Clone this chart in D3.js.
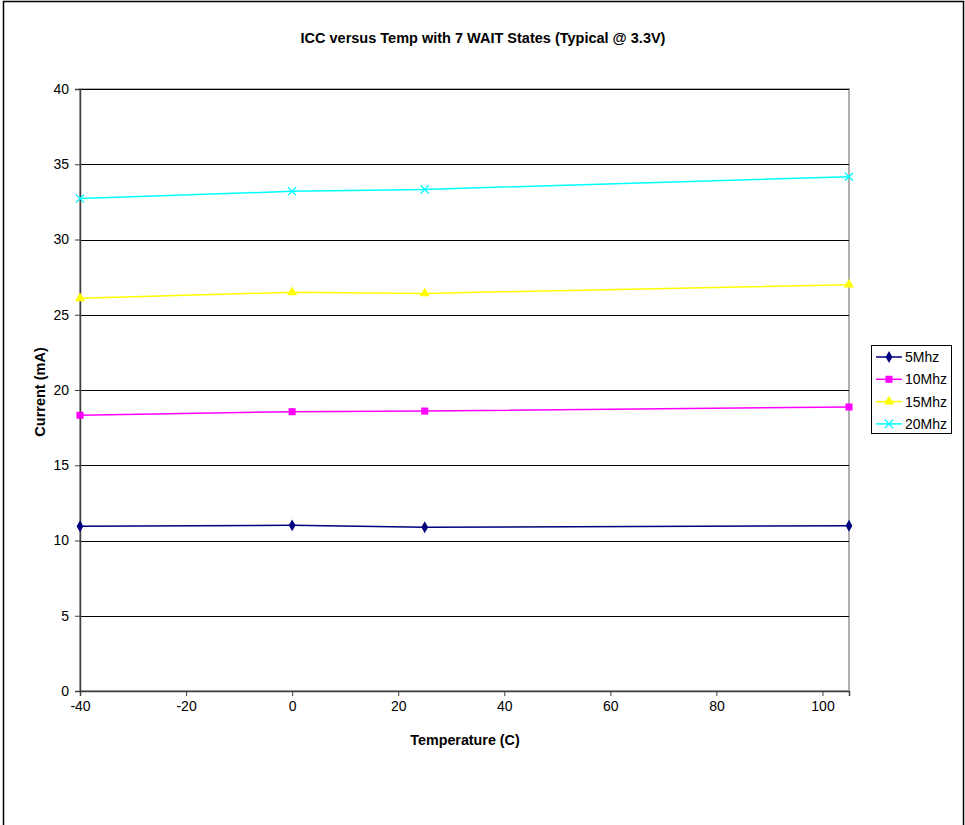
<!DOCTYPE html>
<html>
<head>
<meta charset="utf-8">
<script src="https://cdn.jsdelivr.net/npm/d3@7"></script>
<style>
  body { margin: 0; background: #fff; }
  text { font-family: Arial, 'Liberation Sans', sans-serif; }
</style>
</head>
<body>
<div id="chart"></div>
<script>
const temps = [-40, 0, 25, 105]
const seriesNames = ['5Mhz', '10Mhz', '15Mhz', '20Mhz']
const mhz5 = [10.94, 11.01, 10.88, 10.98]
const mhz10 = [18.32, 18.56, 18.6, 18.87]
const mhz15 = [26.09, 26.49, 26.42, 27.0]
const mhz20 = [32.72, 33.2, 33.33, 34.17]
const yTicks = [0, 5, 10, 15, 20, 25, 30, 35, 40]
const xTicks = [-40, -20, 0, 20, 40, 60, 80, 100]

const colors = ['#000080', '#ff00ff', '#ffff00', '#00ffff']
const symbols = ['diamond', 'square', 'triangle', 'x']
const allSeries = [mhz5, mhz10, mhz15, mhz20].map((vals, i) => ({
  name: seriesNames[i],
  color: colors[i],
  symbol: symbols[i],
  values: vals.map((v, j) => ({ t: temps[j], v: v }))
}))

const W = 965
const H = 825
const margin = { top: 89, right: 116, bottom: 134, left: 80 }
const width = 849 - margin.left
const height = 691 - margin.top

const svg = d3.select('#chart')
  .append('svg')
  .attr('width', W)
  .attr('height', H)

// outer frame
svg.append('rect')
  .attr('x', 3.5).attr('y', 1.5)
  .attr('width', 960).attr('height', 840)
  .attr('fill', 'none').attr('stroke', '#000').attr('stroke-width', 1.5)

const g = svg.append('g')
  .attr('transform', 'translate(' + margin.left + ',' + margin.top + ')')

const x = d3.scaleLinear().domain([-40, 105]).range([0, width])
const y = d3.scaleLinear().domain([0, 40]).range([height, 0])

// plot area border
g.append('rect')
  .attr('x', 0).attr('y', 0)
  .attr('width', width).attr('height', height)
  .attr('fill', 'none').attr('stroke', '#b0b0b0').attr('stroke-width', 2)

// gridlines
g.selectAll('.grid')
  .data(yTicks.filter(d => d > 0))
  .enter()
  .append('line')
  .attr('class', 'grid')
  .attr('x1', 0).attr('x2', width)
  .attr('y1', d => Math.round(y(d)) + 0.5)
  .attr('y2', d => Math.round(y(d)) + 0.5)
  .attr('stroke', '#000')

const yAxis = g.append('g')
  .call(d3.axisLeft(y).tickValues(yTicks).tickFormat(d => String(d)).tickSize(5).tickPadding(6))
const xAxis = g.append('g')
  .attr('transform', 'translate(0,' + height + ')')
  .call(d3.axisBottom(x).tickValues(xTicks).tickFormat(d => String(d)).tickSize(5).tickPadding(5))

;[yAxis, xAxis].forEach(ax => {
  ax.select('.domain').attr('stroke', '#404040').attr('stroke-width', 1.5)
  ax.selectAll('.tick line').attr('stroke', '#404040')
  ax.selectAll('.tick text').attr('font-size', 14).attr('fill', '#000')
    .attr('font-family', 'Arial, Liberation Sans, sans-serif')
})

const line = d3.line()
  .x(d => x(d.t))
  .y(d => y(d.v))

const symbolFor = s => {
  if (s === 'diamond') return d3.symbol().type(d3.symbolDiamond).size(40)()
  if (s === 'square') return d3.symbol().type(d3.symbolSquare).size(50)()
  if (s === 'triangle') return d3.symbol().type(d3.symbolTriangle).size(45)()
  return d3.symbol().type(d3.symbolTimes).size(45)()
}

allSeries.forEach(s => {
  g.append('path')
    .datum(s.values)
    .attr('d', line)
    .attr('fill', 'none')
    .attr('stroke', s.color)
    .attr('stroke-width', 1.5)

  g.selectAll(null)
    .data(s.values)
    .enter()
    .append('path')
    .attr('transform', d => 'translate(' + x(d.t) + ',' + y(d.v) + ')')
    .attr('d', symbolFor(s.symbol))
    .attr('fill', s.symbol === 'x' ? 'none' : s.color)
    .attr('stroke', s.color)
    .attr('stroke-width', s.symbol === 'x' ? 1.3 : 0)
})

// titles
svg.append('text')
  .attr('x', 483).attr('y', 43)
  .attr('text-anchor', 'middle')
  .attr('font-size', 14.5).attr('font-weight', 'bold')
  .text('ICC versus Temp with 7 WAIT States (Typical @ 3.3V)')

svg.append('text')
  .attr('x', 465).attr('y', 745)
  .attr('text-anchor', 'middle')
  .attr('font-size', 14.3).attr('font-weight', 'bold')
  .text('Temperature (C)')

svg.append('text')
  .attr('transform', 'translate(45,392) rotate(-90)')
  .attr('text-anchor', 'middle')
  .attr('font-size', 14.5).attr('font-weight', 'bold')
  .text('Current (mA)')

// legend
const legend = svg.append('g').attr('transform', 'translate(871,345)')
legend.append('rect')
  .attr('x', 0.5).attr('y', 0.5)
  .attr('width', 80).attr('height', 88)
  .attr('fill', '#fff').attr('stroke', '#000')

allSeries.forEach((s, i) => {
  const ly = 12 + i * 22.3
  legend.append('line')
    .attr('x1', 5).attr('x2', 31)
    .attr('y1', ly).attr('y2', ly)
    .attr('stroke', s.color).attr('stroke-width', 1.5)
  legend.append('path')
    .attr('transform', 'translate(18,' + ly + ')')
    .attr('d', symbolFor(s.symbol))
    .attr('fill', s.symbol === 'x' ? 'none' : s.color)
    .attr('stroke', s.color)
    .attr('stroke-width', s.symbol === 'x' ? 1.3 : 0)
  legend.append('text')
    .attr('x', 34).attr('y', ly + 5)
    .attr('font-size', 14)
    .text(s.name)
})
</script>
</body>
</html>
